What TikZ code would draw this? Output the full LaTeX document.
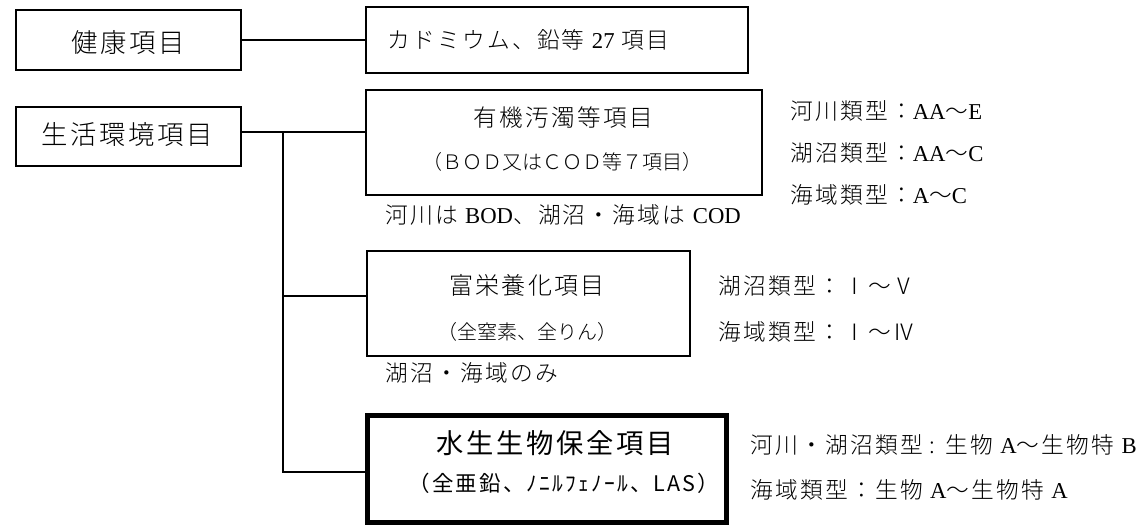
\documentclass[tikz,border=0pt]{standalone}
\usepackage{fontspec}
\setmainfont{Noto Sans CJK JP}
\IfFontExistsTF{Noto Sans CJK JP Light}
  {\newfontfamily\jp{Noto Sans CJK JP Light}[LetterSpace=10]
   \newfontfamily\jpn{Noto Sans CJK JP Light}}
  {\newfontfamily\jp{Noto Sans CJK JP}[LetterSpace=10]
   \newfontfamily\jpn{Noto Sans CJK JP}}
\newfontfamily\jpg{Noto Sans CJK JP}[LetterSpace=10]
\newfontfamily\lat{Liberation Serif}
\newcommand{\fs}[1]{\fontsize{#1}{#1}\selectfont}
\tikzset{
  box/.style={draw, line width=1.6pt, inner sep=0pt},
  thickbox/.style={draw, line width=5pt, inner sep=0pt},
  txt/.style={inner sep=0pt, font=\jp},
  lbl/.style={inner sep=0pt, anchor=west, font=\jp\fs{22.7}},
  conn/.style={line width=1.6pt},
}
\begin{document}
\begin{tikzpicture}[x=1pt,y=-1pt]
\useasboundingbox (0,0) rectangle (1138,527);
% boxes
\node[box, minimum width=225pt, minimum height=60pt] (kenko) at (128.5,40) {};
\node[box, minimum width=382pt, minimum height=66pt] (kado) at (557,40) {};
\node[box, minimum width=225pt, minimum height=59pt] (seikatsu) at (128.5,136.5) {};
\node[box, minimum width=396pt, minimum height=105pt] (yuki) at (564,142.5) {};
\node[box, minimum width=323pt, minimum height=105pt] (fuei) at (528.5,303.5) {};
\node[thickbox, minimum width=359pt, minimum height=107pt] (suisei) at (547,469) {};
% texts in boxes
\node[txt, font=\jp\fs{26.4}] (tkenko) at (128.5,43) {健康項目};
\node[txt, anchor=west, font=\jp\fs{22.7}] (tkado) at (387,40) {カドミウム、鉛等 {\lat 27} 項目};
\node[txt, font=\jp\fs{26.4}] (tseikatsu) at (127,135) {生活環境項目};
\node[txt, font=\jp\fs{23.6}] (tyuki1) at (563,118) {有機汚濁等項目};
\node[txt, font=\jpn\fs{20}] (tyuki2) at (562,162) {（ＢＯＤ又はＣＯＤ等７項目）};
\node[txt, font=\jp\fs{24}] (tfuei1) at (527,285) {富栄養化項目};
\node[txt, font=\jpn\fs{20}] (tfuei2) at (527,332) {（全窒素、全りん）};
\node[txt, font=\jpg\fs{27.3}] (tsui1) at (555,443) {水生生物保全項目};
\node[txt, font=\jpg\fs{21.5}] (tsui2) at (564,483) {（全亜鉛、ﾉﾆﾙﾌｪﾉｰﾙ、LAS）};
% notes
\node[lbl] (n1) at (385,215) {河川は {\lat BOD}、湖沼・海域は {\lat COD}};
\node[lbl] (n2) at (385,373) {湖沼・海域のみ};
% right labels
\node[lbl] (r1) at (790,111) {河川類型：{\lat AA}～{\lat E}};
\node[lbl] (r2) at (790,153) {湖沼類型：{\lat AA}～{\lat C}};
\node[lbl] (r3) at (790,195) {海域類型：{\lat A}～{\lat C}};
\node[lbl] (r4) at (718,286) {湖沼類型：Ⅰ～Ⅴ};
\node[lbl] (r5) at (718,332) {海域類型：Ⅰ～Ⅳ};
\node[lbl] (r6) at (750,445) {河川・湖沼類型 : 生物 {\lat A}～生物特 {\lat B}};
\node[lbl] (r7) at (750,490) {海域類型：生物 {\lat A}～生物特 {\lat A}};
% connectors
\coordinate (j1) at (283,132);
\coordinate (j2) at (283,296);
\coordinate (j3) at (283,472);
\draw[conn] (kenko.east) -- (kado.west);
\draw[conn] (seikatsu.east |- j1) -- (yuki.west |- j1);
\draw[conn] (j1) -- (j3) -- (suisei.west |- j3);
\draw[conn] (j2) -- (fuei.west |- j2);
\end{tikzpicture}
\end{document}
